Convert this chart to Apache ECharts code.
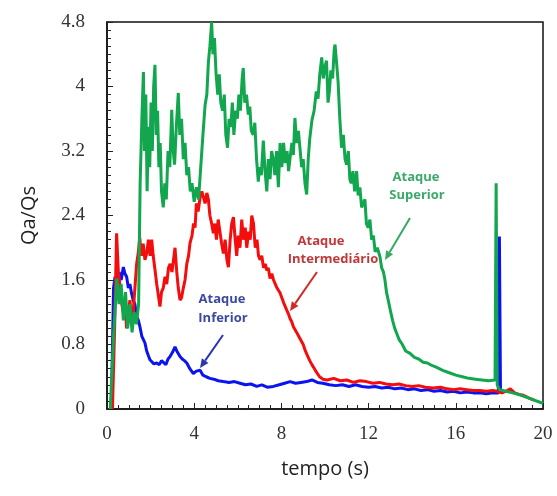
<!DOCTYPE html>
<html>
<head>
<meta charset="utf-8">
<script src="https://cdn.jsdelivr.net/npm/echarts@6/dist/echarts.min.js"></script>
<style>
  html, body { margin: 0; padding: 0; background: #fff; }
  #chart { width: 557px; height: 496px; }
</style>
</head>
<body>
<div id="chart"></div>
<script>
//--------------------------------
// Data (tempo [s], Qa/Qs)
//--------------------------------
const xTicks = [0, 4, 8, 12, 16, 20];
const yTicks = [0, 0.8, 1.6, 2.4, 3.2, 4, 4.8];

const ataqueSuperior = [
    [0.15,0],[0.3,0.9],[0.45,1.62],[0.55,1.3],[0.65,1.55],[0.75,1.1],[0.85,1.45],[0.95,1.0],[1.05,1.3],[1.15,0.95],
    [1.25,1.2],[1.35,1.05],[1.45,1.3],[1.52,2.8],[1.6,3.6],[1.67,4.18],[1.72,3.2],[1.78,3.9],[1.84,2.7],[1.9,3.5],
    [1.96,3.0],[2.02,3.8],[2.08,3.2],[2.14,4.0],[2.2,4.27],[2.26,3.4],[2.32,3.7],[2.38,3.0],[2.44,3.3],[2.5,2.7],
    [2.58,2.5],[2.65,2.8],[2.72,2.6],[2.8,3.2],[2.88,3.0],[2.97,3.71],[3.04,3.2],[3.1,3.03],[3.18,3.5],[3.27,3.92],
    [3.34,3.4],[3.42,3.6],[3.5,3.1],[3.58,3.3],[3.66,2.9],[3.74,3.0],[3.82,2.7],[3.9,2.8],[4.0,2.57],[4.1,2.75],
    [4.2,2.6],[4.3,3.0],[4.4,3.4],[4.5,3.77],[4.58,3.9],[4.65,4.3],[4.72,4.5],[4.8,4.8],[4.86,4.4],[4.93,4.6],
    [5.0,4.17],[5.08,3.9],[5.15,4.15],[5.22,3.8],[5.3,3.7],[5.38,3.9],[5.45,3.4],[5.53,3.24],[5.6,3.6],[5.68,3.5],
    [5.75,3.8],[5.82,3.4],[5.9,3.7],[5.98,3.6],[6.05,3.9],[6.12,3.7],[6.2,4.1],[6.25,4.23],[6.32,3.8],[6.4,3.9],
    [6.48,3.65],[6.55,3.75],[6.62,3.45],[6.71,3.4],[6.78,3.55],[6.86,3.1],[6.94,2.82],[7.0,3.0],[7.08,2.9],[7.17,3.33],
    [7.25,2.95],[7.33,2.7],[7.4,3.1],[7.48,2.85],[7.55,3.2],[7.63,3.1],[7.7,2.9],[7.78,3.2],[7.86,2.75],[7.94,3.3],
    [8.02,3.0],[8.1,3.3],[8.18,3.05],[8.26,3.2],[8.33,2.95],[8.4,3.12],[8.48,3.3],[8.55,3.15],[8.62,3.61],[8.7,3.3],
    [8.78,3.45],[8.85,3.24],[8.93,3.0],[9.0,3.1],[9.08,2.8],[9.16,2.66],[9.23,3.1],[9.3,3.35],[9.4,3.58],[9.5,3.7],
    [9.6,3.94],[9.68,3.85],[9.76,4.15],[9.85,4.36],[9.92,4.1],[10.0,4.25],[10.07,4.32],[10.14,3.8],[10.2,3.94],[10.27,4.2],
    [10.35,4.1],[10.42,4.45],[10.46,4.52],[10.53,4.3],[10.6,4.06],[10.68,3.6],[10.76,3.24],[10.84,3.4],[10.92,3.1],[10.99,3.03],
    [11.07,3.2],[11.14,2.85],[11.2,2.8],[11.28,2.95],[11.36,2.7],[11.45,2.95],[11.52,2.65],[11.6,2.75],[11.68,2.5],[11.75,2.49],
    [11.83,2.6],[11.9,2.3],[11.98,2.25],[12.06,2.35],[12.14,2.1],[12.22,2.15],[12.3,1.95],[12.4,2.0],[12.52,1.89],[12.6,1.75],
    [12.68,1.7],[12.75,1.6],[12.82,1.45],[12.9,1.35],[13.0,1.22],[13.1,1.1],[13.2,1.0],[13.3,0.93],[13.4,0.86],[13.55,0.8],
    [13.7,0.72],[13.9,0.69],[14.1,0.64],[14.3,0.62],[14.5,0.58],[14.7,0.57],[14.9,0.54],[15.1,0.52],[15.4,0.48],[15.7,0.45],
    [16.0,0.42],[16.3,0.4],[16.6,0.38],[16.9,0.37],[17.2,0.36],[17.5,0.35],[17.8,0.36],[17.85,2.8],[17.9,0.3],[18.0,0.24],
    [18.3,0.22],[18.6,0.2],[18.9,0.18],[19.2,0.15],[19.5,0.12],[19.8,0.09],[20.0,0.07]
];

const ataqueIntermediario = [
    [0.25,0],[0.35,1.0],[0.44,2.18],[0.52,1.7],[0.6,1.52],[0.68,1.3],[0.75,1.19],[0.82,1.35],[0.9,1.0],[0.98,1.2],
    [1.05,1.35],[1.12,1.15],[1.2,1.2],[1.28,1.5],[1.36,1.8],[1.44,1.95],[1.5,2.13],[1.58,1.9],[1.66,2.05],[1.74,1.85],
    [1.82,1.93],[1.9,2.1],[1.98,1.9],[2.05,2.1],[2.12,1.9],[2.2,1.73],[2.28,1.55],[2.36,1.4],[2.43,1.27],[2.5,1.45],
    [2.58,1.5],[2.66,1.64],[2.74,1.55],[2.82,1.75],[2.9,1.8],[2.98,1.7],[3.05,1.85],[3.12,2.0],[3.2,1.7],[3.27,1.5],
    [3.35,1.35],[3.42,1.38],[3.5,1.5],[3.58,1.6],[3.66,1.8],[3.74,1.9],[3.81,2.06],[3.9,2.15],[3.97,2.3],[4.04,2.25],
    [4.1,2.55],[4.18,2.45],[4.27,2.62],[4.35,2.7],[4.42,2.72],[4.5,2.55],[4.58,2.68],[4.65,2.6],[4.72,2.4],[4.8,2.3],
    [4.88,2.18],[4.95,2.3],[5.02,2.1],[5.1,2.35],[5.18,2.2],[5.26,2.05],[5.34,1.93],[5.42,2.1],[5.5,1.85],[5.57,1.76],
    [5.65,2.1],[5.72,2.3],[5.8,2.38],[5.88,2.1],[5.95,1.9],[6.02,2.15],[6.1,2.0],[6.18,2.35],[6.26,2.1],[6.34,2.25],
    [6.41,2.0],[6.5,2.2],[6.57,2.1],[6.64,2.4],[6.72,2.3],[6.8,2.0],[6.88,2.1],[6.95,1.9],[7.02,1.85],[7.1,1.9],
    [7.18,1.75],[7.26,1.8],[7.33,1.72],[7.4,1.75],[7.48,1.62],[7.56,1.68],[7.64,1.6],[7.72,1.55],[7.8,1.5],[7.87,1.47],
    [7.94,1.44],[8.02,1.38],[8.1,1.32],[8.17,1.3],[8.24,1.23],[8.32,1.18],[8.4,1.12],[8.48,1.08],[8.55,1.02],[8.63,1.0],
    [8.7,0.95],[8.8,0.9],[8.9,0.85],[9.0,0.8],[9.1,0.72],[9.2,0.66],[9.3,0.6],[9.4,0.55],[9.47,0.52],[9.6,0.46],
    [9.75,0.4],[9.9,0.37],[10.1,0.36],[10.4,0.38],[10.7,0.35],[11.0,0.36],[11.3,0.33],[11.6,0.35],[11.9,0.34],[12.2,0.32],
    [12.5,0.33],[12.8,0.31],[13.1,0.3],[13.4,0.31],[13.7,0.29],[14.0,0.28],[14.3,0.29],[14.6,0.27],[14.96,0.26],[15.3,0.27],
    [15.6,0.25],[15.9,0.24],[16.2,0.25],[16.5,0.24],[16.8,0.23],[17.1,0.23],[17.4,0.22],[17.7,0.23],[17.9,0.22],[18.1,0.2],
    [18.3,0.22],[18.5,0.25],[18.7,0.2],[18.9,0.18],[19.1,0.17],[19.4,0.13],[19.6,0.11]
];

const ataqueInferior = [
    [0.2,0],[0.3,1.5],[0.37,1.64],[0.45,1.55],[0.55,1.7],[0.65,1.6],[0.75,1.76],[0.82,1.68],[0.9,1.64],[0.98,1.5],
    [1.05,1.55],[1.13,1.43],[1.2,1.35],[1.28,1.3],[1.36,1.15],[1.44,1.1],[1.51,1.02],[1.6,0.9],[1.67,0.88],[1.74,0.82],
    [1.82,0.72],[1.9,0.66],[1.97,0.61],[2.05,0.6],[2.15,0.56],[2.28,0.57],[2.4,0.55],[2.5,0.6],[2.58,0.59],[2.7,0.55],
    [2.8,0.62],[2.89,0.65],[3.0,0.7],[3.12,0.77],[3.2,0.72],[3.28,0.7],[3.35,0.65],[3.45,0.62],[3.55,0.6],[3.66,0.57],
    [3.8,0.5],[3.96,0.44],[4.1,0.47],[4.27,0.48],[4.4,0.42],[4.55,0.4],[4.72,0.38],[4.9,0.37],[5.1,0.35],[5.34,0.34],
    [5.6,0.33],[5.85,0.34],[6.1,0.32],[6.35,0.3],[6.6,0.31],[6.87,0.28],[7.1,0.3],[7.35,0.27],[7.63,0.28],[7.9,0.3],
    [8.15,0.32],[8.4,0.34],[8.65,0.32],[8.9,0.33],[9.16,0.34],[9.4,0.36],[9.65,0.33],[9.9,0.32],[10.2,0.3],[10.5,0.29],
    [10.8,0.3],[11.1,0.28],[11.4,0.3],[11.7,0.28],[12.0,0.27],[12.3,0.28],[12.6,0.26],[12.9,0.27],[13.2,0.25],[13.5,0.26],
    [13.8,0.24],[14.1,0.25],[14.4,0.23],[14.7,0.24],[15.0,0.22],[15.3,0.23],[15.6,0.21],[15.9,0.22],[16.2,0.2],[16.5,0.21],
    [16.8,0.2],[17.1,0.2],[17.4,0.19],[17.7,0.2],[17.95,0.2],[18.0,2.14],[18.05,0.22],[18.2,0.2]
];

//--------------------------------
// Chart
//--------------------------------
const myChart = echarts.init(document.getElementById('chart'), null, { renderer: 'canvas' });

const tickFont = { fontFamily: 'Liberation Serif', fontSize: 19, color: '#333' };
const nameFont = { fontFamily: 'Open Sans', fontSize: 20, color: '#222' };

const arrow = (x1, y1, x2, y2, color) => {
    // line plus a small filled head at (x2, y2)
    const a = Math.atan2(y2 - y1, x2 - x1);
    const L = 9, W = 4;
    const bx = x2 - L * Math.cos(a), by = y2 - L * Math.sin(a);
    return [
        { type: 'line', shape: { x1, y1, x2: bx, y2: by }, style: { stroke: color, lineWidth: 2 }, z: 10 },
        { type: 'polygon', shape: { points: [[x2, y2], [bx + W * Math.sin(a), by - W * Math.cos(a)], [bx - W * Math.sin(a), by + W * Math.cos(a)]] }, style: { fill: color }, z: 10 }
    ];
};

const label = (text, x, y, color) => ({
    type: 'text', x, y, z: 10,
    style: { text, fill: color, font: 'bold 13px "Open Sans"', align: 'center', verticalAlign: 'middle' }
});

let options = {
    animation: false,
    grid: {
        left: 107,
        right: 14,
        top: 22,
        bottom: 87,
        show: true,
        borderColor: '#111',
        borderWidth: 1.5,
        backgroundColor: 'transparent'
    },
    xAxis: {
        type: 'value',
        min: xTicks[0],
        max: xTicks[xTicks.length - 1],
        interval: xTicks[1] - xTicks[0],
        name: 'tempo (s)',
        nameLocation: 'middle',
        nameGap: 50,
        nameTextStyle: nameFont,
        axisLine: { show: true, lineStyle: { color: '#111', width: 1.5 } },
        axisTick: { show: true, inside: true, length: 6, lineStyle: { color: '#222' } },
        minorTick: { show: true, splitNumber: 8, length: 4, lineStyle: { color: '#222' } },
        axisLabel: Object.assign({ margin: 16 }, tickFont),
        splitLine: { show: false }
    },
    yAxis: {
        type: 'value',
        min: yTicks[0],
        max: yTicks[yTicks.length - 1],
        interval: yTicks[1] - yTicks[0],
        name: 'Qa/Qs',
        nameLocation: 'middle',
        nameGap: 68,
        nameTextStyle: nameFont,
        axisLine: { show: true, lineStyle: { color: '#111', width: 1.5 } },
        axisTick: { show: true, inside: true, length: 6, lineStyle: { color: '#222' } },
        minorTick: { show: true, splitNumber: 8, length: 4, lineStyle: { color: '#222' } },
        axisLabel: Object.assign({ margin: 22 }, tickFont),
        splitLine: { show: false }
    },
    series: [
        {
            name: 'Ataque Inferior',
            type: 'line',
            data: ataqueInferior,
            showSymbol: false,
            lineStyle: { color: '#0a14f0', width: 3 },
            z: 2
        },
        {
            name: 'Ataque Intermediário',
            type: 'line',
            data: ataqueIntermediario,
            showSymbol: false,
            lineStyle: { color: '#f50d0d', width: 3 },
            z: 3
        },
        {
            name: 'Ataque Superior',
            type: 'line',
            data: ataqueSuperior,
            showSymbol: false,
            lineStyle: { color: '#12a64e', width: 3 },
            z: 4
        }
    ],
    graphic: [
        label('Ataque', 222, 299, '#3b4aa0'),
        label('Inferior', 223, 318, '#3b4aa0'),
        label('Ataque', 321, 241, '#c23838'),
        label('Intermediário', 333, 259, '#c23838'),
        label('Ataque', 416, 177, '#3aa96a'),
        label('Superior', 417, 195, '#3aa96a'),
        ...arrow(223, 335, 200, 368, '#2a36b0'),
        ...arrow(317, 272, 290, 311, '#d02a2a'),
        ...arrow(410, 218, 385, 260, '#36a862')
    ]
};

myChart.setOption(options);
</script>
</body>
</html>
